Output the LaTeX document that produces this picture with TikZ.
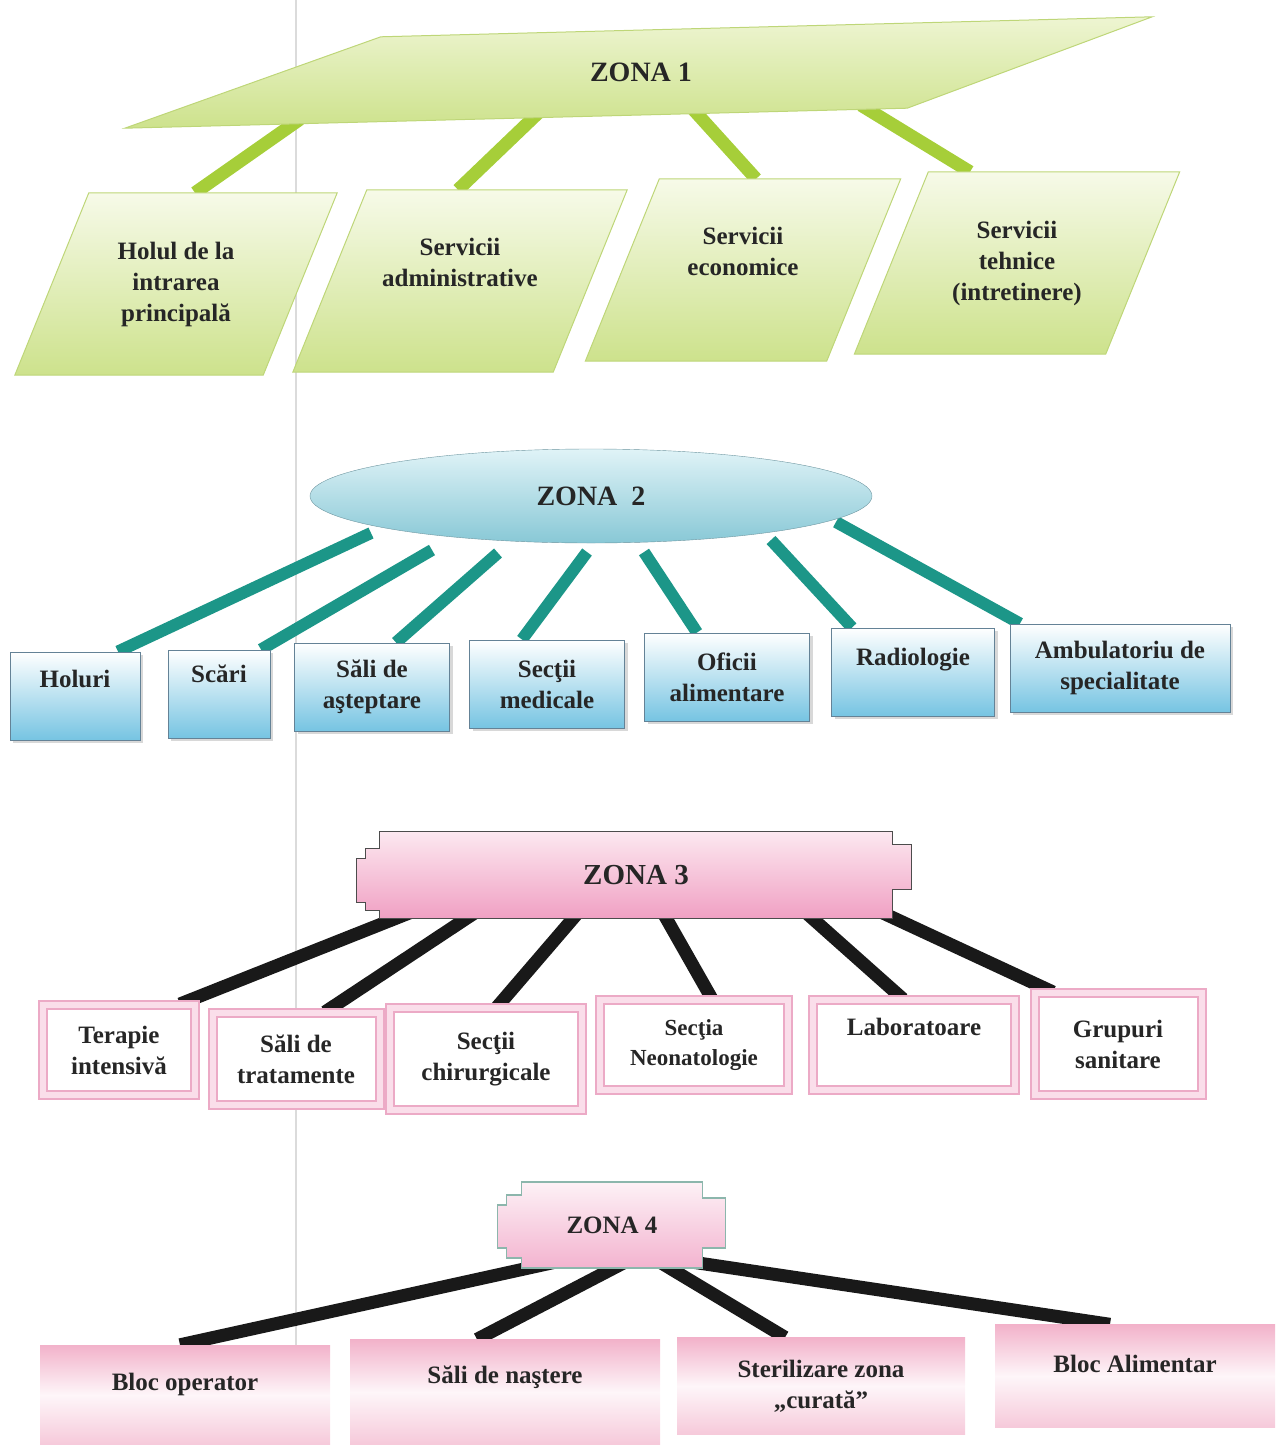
\documentclass[tikz,border=0pt]{standalone}
\usepackage{fontspec}
\setmainfont{Liberation Serif}
\usepackage{tikz}
\usetikzlibrary{shapes.geometric, positioning, calc, shadows, backgrounds}
\usepackage{xcolor}

\definecolor{zonegreen}{RGB}{166,206,57}
\definecolor{zonelime}{RGB}{205,226,140}
\definecolor{zonelimelight}{RGB}{238,245,210}
\definecolor{limeedge}{RGB}{190,214,120}
\definecolor{zoneteal}{RGB}{28,150,136}
\definecolor{ovaltop}{RGB}{224,243,247}
\definecolor{ovalbot}{RGB}{136,200,214}
\definecolor{ovaledge}{RGB}{110,150,160}
\definecolor{cyanbot}{RGB}{118,196,226}
\definecolor{cyanedge}{RGB}{100,130,150}
\definecolor{rosetop}{RGB}{252,232,240}
\definecolor{rosebot}{RGB}{240,160,195}
\definecolor{roseedge}{RGB}{236,170,198}
\definecolor{roseband}{RGB}{250,222,234}
\definecolor{rosefill}{RGB}{242,178,202}
\definecolor{plaqueedge}{RGB}{140,182,172}

\begin{document}
\begin{tikzpicture}[x=1pt, y=-1pt,
    lbl/.style={font=\bfseries\fontsize{25}{31}\selectfont, align=center, text=black!85},
    zonelbl/.style={font=\bfseries\fontsize{28}{32}\selectfont, text=black!85},
    limebox/.style={lbl, rectangle, minimum height=182pt, inner sep=0pt},
    limeshape/.style={draw=limeedge, line width=1pt, top color=zonelimelight!50!white, bottom color=zonelime},
    cyanbox/.style={lbl, rectangle, minimum height=88pt, inner sep=2pt, draw=cyanedge,
        line width=1pt, top color=white, bottom color=cyanbot,
        drop shadow={shadow xshift=3pt, shadow yshift=-3pt, fill=black!30}},
    framebox/.style={lbl, rectangle, inner sep=2pt, draw=roseedge, line width=2pt,
        double=roseband, double distance=6pt, fill=white},
    rosebox/.style={lbl, rectangle, inner sep=2pt, top color=rosefill,
        bottom color=rosefill!70, middle color=rosetop!40!white},
    limelink/.style={zonegreen, line width=13pt},
    teallink/.style={zoneteal, line width=12pt},
    blacklink/.style={black!90, line width=13pt}
]
    \useasboundingbox (0,0) rectangle (1279,1445);

    % Zona 1: parallelogram and its four services
    \node[zonelbl, rectangle, minimum width=780pt, minimum height=90pt, inner sep=0pt] (zona1) at (641,72) {ZONA 1};
    \node[limebox, minimum width=248pt] (hol) at (176,284) {Holul de la\\intrarea\\principală};
    \node[limebox, minimum width=260pt, text depth=37pt] (adm) at (460,281) {Servicii\\administrative};
    \node[limebox, minimum width=241pt, text depth=37pt] (eco) at (743,270) {Servicii\\economice};
    \node[limebox, minimum width=251pt] (teh) at (1017,263) {Servicii\\tehnice\\(intretinere)};

    % Zona 2: oval and seven boxes
    \node[zonelbl, ellipse, minimum width=562pt, minimum height=94pt, inner sep=0pt,
        draw=ovaledge, top color=ovaltop, bottom color=ovalbot] (zona2) at (591,496) {ZONA~~2};
    \node[cyanbox, minimum width=130pt, text depth=35pt] (holuri) at (75,696) {Holuri};
    \node[cyanbox, minimum width=102pt, text depth=41pt] (scari) at (219,694) {Scări};
    \node[cyanbox, minimum width=155pt] (sali) at (372,687) {Săli de\\aşteptare};
    \node[cyanbox, minimum width=155pt] (sectii) at (547,684) {Secţii\\medicale};
    \node[cyanbox, minimum width=165pt] (oficii) at (727,677) {Oficii\\alimentare};
    \node[cyanbox, minimum width=163pt, text depth=31pt] (radio) at (913,672) {Radiologie};
    \node[cyanbox, minimum width=220pt] (ambul) at (1120,668) {Ambulatoriu de\\specialitate};

    % Zona 3: plaque and six framed boxes
    \node[zonelbl, font=\bfseries\fontsize{29}{32}\selectfont, minimum width=513pt,
        minimum height=87pt, inner sep=0pt] (zona3) at (636,875) {ZONA 3};
    \node[framebox, minimum width=152pt, minimum height=90pt] (terapie) at (119,1050) {Terapie\\intensivă};
    \node[framebox, minimum width=167pt, minimum height=92pt] (trat) at (296,1059) {Săli de\\tratamente};
    \node[framebox, minimum width=192pt, minimum height=102pt] (chir) at (486,1059) {Secţii\\chirurgicale};
    \node[framebox, minimum width=188pt, minimum height=90pt,
        font=\bfseries\fontsize{23}{30}\selectfont] (neo) at (694,1045) {Secţia\\Neonatologie};
    \node[framebox, minimum width=202pt, minimum height=90pt, text depth=37pt] (lab) at (914,1045) {Laboratoare};
    \node[framebox, minimum width=167pt, minimum height=102pt] (grup) at (1118,1044) {Grupuri\\sanitare};

    % Zona 4: small plaque and four blocks
    \node[zonelbl, font=\bfseries\fontsize{25}{30}\selectfont, minimum width=181pt,
        minimum height=86pt, inner sep=0pt] (zona4) at (612,1225) {ZONA 4};
    \node[rosebox, minimum width=290pt, minimum height=100pt, text depth=27pt] (bloc) at (185,1395) {Bloc operator};
    \node[rosebox, minimum width=310pt, minimum height=105pt, text depth=35pt] (nastere) at (505,1392) {Săli de naştere};
    \node[rosebox, minimum width=288pt, minimum height=97pt] (steril) at (821,1386) {Sterilizare zona\\„curată”};
    \node[rosebox, minimum width=280pt, minimum height=103pt, text depth=25pt] (alim) at (1135,1376) {Bloc Alimentar};

    \begin{pgfonlayer}{background}
        % fold line of the scanned page
        \draw[black!14, line width=1.2pt] (296,0) -- (296,1445);

        % links of zona 1, then the parallelograms over their ends
        \draw[limelink] ([xshift=-341,yshift=-2]zona1.south) -- ([xshift=19]hol.north);
        \draw[limelink] ([xshift=-103,yshift=4]zona1.south) -- ([xshift=-2]adm.north);
        \draw[limelink] ([xshift=52,yshift=8]zona1.south) -- ([xshift=13]eco.north);
        \draw[limelink] ([xshift=220,yshift=12]zona1.south) -- ([xshift=-47]teh.north);
        \path[limeshape, top color=zonelimelight, bottom color=zonelime]
            ([xshift=130,yshift=-10]zona1.north west) -- ([xshift=121,yshift=10]zona1.north east)
            -- ([xshift=-124,yshift=9]zona1.south east) -- ([xshift=-126,yshift=-11]zona1.south west) -- cycle;
        \foreach \plate in {hol, adm, eco, teh}
            \path[limeshape] ([xshift=-37]\plate.south west) -- ([xshift=37]\plate.north west)
                -- ([xshift=37]\plate.north east) -- ([xshift=-37]\plate.south east) -- cycle;

        % links of zona 2
        \draw[teallink] ($(zona2.center)+(-220,37)$) -- ([xshift=43]holuri.north);
        \draw[teallink] ($(zona2.center)+(-159,54)$) -- ([xshift=42]scari.north);
        \draw[teallink] ($(zona2.center)+(-93,57)$) -- ([xshift=24]sali.north);
        \draw[teallink] ($(zona2.center)+(-4,56)$) -- ([xshift=-25]sectii.north);
        \draw[teallink] ($(zona2.center)+(53,56)$) -- ([xshift=-30]oficii.north);
        \draw[teallink] ($(zona2.center)+(180,44)$) -- ([xshift=-61]radio.north);
        \draw[teallink] ($(zona2.center)+(245,26)$) -- ([xshift=-100]ambul.north);

        % links of zona 3, then its plaque on top of them
        \draw[blacklink] ([xshift=-226,yshift=6]zona3.south) -- ([xshift=61]terapie.north);
        \draw[blacklink] ([xshift=-161,yshift=6]zona3.south) -- ([xshift=29]trat.north);
        \draw[blacklink] ([xshift=-58,yshift=6]zona3.south) -- ([xshift=11]chir.north);
        \draw[blacklink] ([xshift=27,yshift=6]zona3.south) -- ([xshift=18]neo.north);
        \draw[blacklink] ([xshift=161,yshift=14]zona3.south) -- ([xshift=-11]lab.north);
        \draw[blacklink] ([xshift=229,yshift=14]zona3.south) -- ([xshift=-65]grup.north);
        \draw[black!70, line width=1.2pt, top color=rosetop, bottom color=rosebot]
            (zona3.north west) -- (zona3.north east) -- ++(0,13) -- ++(19,0) -- ++(0,45)
            -- ++(-19,0) -- (zona3.south east) -- (zona3.south west) -- ++(0,-8) -- ++(-14,0)
            -- ++(0,-8) -- ++(-9,0) -- ++(0,-44) -- ++(9,0) -- ++(0,-10) -- ++(14,0) -- cycle;

        % links of zona 4, then its plaque
        \draw[blacklink] ([xshift=-57,yshift=6]zona4.south) -- ([xshift=-5]bloc.north);
        \draw[blacklink] ([xshift=13,yshift=6]zona4.south) -- ([xshift=-28]nastere.north);
        \draw[blacklink] ([xshift=48,yshift=6]zona4.south) -- ([xshift=-36]steril.north);
        \draw[blacklink] ([xshift=81,yshift=6]zona4.south) -- ([xshift=-25]alim.north);
        \draw[plaqueedge, line width=1.5pt, top color=rosetop!60!white, bottom color=rosebot!80]
            (zona4.north west) -- (zona4.north east) -- ++(0,16) -- ++(23,0) -- ++(0,50)
            -- ++(-23,0) -- (zona4.south east) -- (zona4.south west) -- ++(0,-10) -- ++(-15,0)
            -- ++(0,-10) -- ++(-9,0) -- ++(0,-43) -- ++(9,0) -- ++(0,-10) -- ++(15,0) -- cycle;
    \end{pgfonlayer}
\end{tikzpicture}
\end{document}
